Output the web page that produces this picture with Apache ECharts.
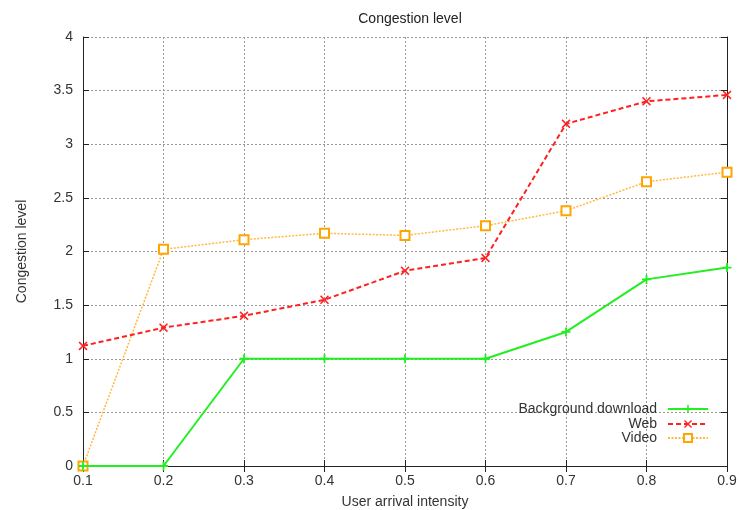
<!DOCTYPE html>
<html>
<head>
<meta charset="utf-8">
<script src="https://cdn.jsdelivr.net/npm/echarts@6/dist/echarts.min.js"></script>
<style>
  html, body { margin: 0; padding: 0; background: #fff; }
  #chart { width: 741px; height: 510px; }
</style>
</head>
<body>
<div id="chart"></div>
<script>
// Arrival intensities on the x axis
const intensities = ['0.1', '0.2', '0.3', '0.4', '0.5', '0.6', '0.7', '0.8', '0.9'];

// Congestion level per traffic class
const backgroundDownload = [0, 0, 1.0, 1.0, 1.0, 1.0, 1.25, 1.74, 1.85];
const web = [1.12, 1.29, 1.40, 1.55, 1.82, 1.94, 3.19, 3.40, 3.46];
const video = [0, 2.02, 2.11, 2.17, 2.15, 2.24, 2.38, 2.65, 2.74];

const FONT = 'Liberation Sans, Arial, sans-serif';
const TEXT = '#333';
const FS = 14;

const plusPath = 'path://M4,0H6V4H10V6H6V10H4V6H0V4H4Z';
const crossPath = 'path://M1.2,0L5,3.8L8.8,0L10,1.2L6.2,5L10,8.8L8.8,10L5,6.2L1.2,10L0,8.8L3.8,5L0,1.2Z';

const chart = echarts.init(document.getElementById('chart'), null, { renderer: 'canvas' });

function legendAt(name, top) {
  return {
    data: [name],
    right: 32,
    top: top,
    align: 'right',
    itemWidth: 40,
    itemHeight: 10,
    itemGap: 0,
    padding: 0,
    textStyle: { fontFamily: FONT, fontSize: FS, color: TEXT, padding: [0, 6, 0, 0] },
    selectedMode: false
  };
}

const option = {
  backgroundColor: '#fff',
  animation: false,
  title: {
    text: 'Congestion level',
    left: 405,
    textAlign: 'center',
    top: 7,
    textStyle: { fontFamily: FONT, fontSize: FS, fontWeight: 'normal', color: '#222' }
  },
  legend: [
    legendAt('Background download', 402),
    legendAt('Web', 417),
    legendAt('Video', 431)
  ],
  grid: { left: 83, right: 14, top: 37, bottom: 44, outerBoundsMode: 'none' },
  xAxis: [
    {
      type: 'category',
      data: intensities,
      boundaryGap: false,
      name: 'User arrival intensity',
      nameLocation: 'middle',
      nameGap: 29,
      nameTextStyle: { fontFamily: FONT, fontSize: FS, color: TEXT },
      axisLine: { lineStyle: { color: '#222', width: 1 } },
      axisTick: { inside: true, length: 6, lineStyle: { color: '#222' } },
      axisLabel: { fontFamily: FONT, fontSize: FS, color: TEXT, margin: 8 },
      splitLine: { show: true, lineStyle: { color: '#999', type: [2, 2], width: 1 } }
    },
    {
      type: 'category',
      data: intensities,
      boundaryGap: false,
      position: 'top',
      axisLine: { lineStyle: { color: '#222', width: 1 } },
      axisTick: { inside: true, length: 6, lineStyle: { color: '#222' } },
      axisLabel: { show: false },
      splitLine: { show: false }
    }
  ],
  yAxis: [
    {
      type: 'value',
      min: 0,
      max: 4,
      interval: 0.5,
      name: 'Congestion level',
      nameLocation: 'middle',
      nameRotate: 90,
      nameGap: 54,
      nameTextStyle: { fontFamily: FONT, fontSize: FS, color: TEXT },
      axisLine: { show: true, lineStyle: { color: '#222', width: 1 } },
      axisTick: { show: true, inside: true, length: 6, lineStyle: { color: '#222' } },
      axisLabel: { fontFamily: FONT, fontSize: FS, color: TEXT, margin: 10 },
      splitLine: { show: true, lineStyle: { color: '#999', type: [2, 2], width: 1 } }
    },
    {
      type: 'value',
      min: 0,
      max: 4,
      interval: 0.5,
      position: 'right',
      axisLine: { show: true, lineStyle: { color: '#222', width: 1 } },
      axisTick: { show: true, inside: true, length: 6, lineStyle: { color: '#222' } },
      axisLabel: { show: false },
      splitLine: { show: false }
    }
  ],
  series: [
    {
      name: 'Background download',
      type: 'line',
      data: backgroundDownload,
      symbol: plusPath,
      symbolSize: 9,
      showAllSymbol: true,
      color: '#22ee22',
      itemStyle: { color: '#22ee22', borderWidth: 0 },
      lineStyle: { color: '#22ee22', width: 2, type: 'solid' },
      z: 3
    },
    {
      name: 'Web',
      type: 'line',
      data: web,
      symbol: crossPath,
      symbolSize: 9,
      showAllSymbol: true,
      color: '#ff2020',
      itemStyle: { color: '#ff2020', borderWidth: 0 },
      lineStyle: { color: '#ff2020', width: 2, type: [5, 3] },
      z: 4
    },
    {
      name: 'Video',
      type: 'line',
      data: video,
      symbol: 'emptyRect',
      symbolSize: 9,
      showAllSymbol: true,
      color: '#ffa500',
      itemStyle: { color: '#ffa500', borderColor: '#ffa500', borderWidth: 2 },
      lineStyle: { color: '#ffb940', width: 1.5, type: [2, 1.5] },
      z: 2
    }
  ]
};

chart.setOption(option);
</script>
</body>
</html>
